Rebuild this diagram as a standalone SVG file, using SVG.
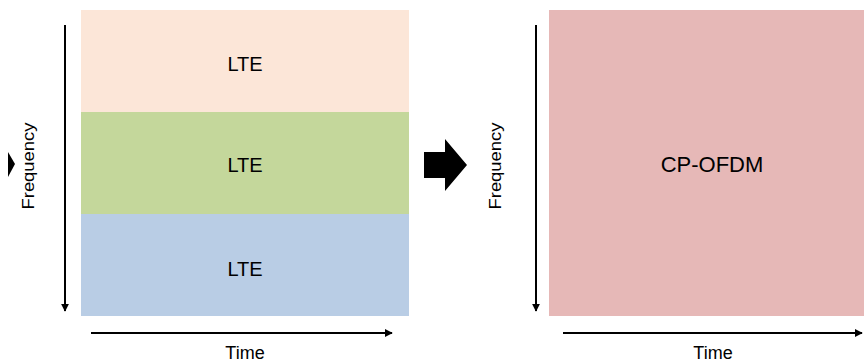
<svg xmlns="http://www.w3.org/2000/svg" width="864" height="363" viewBox="0 0 864 363">
<defs>
<style>
.lbl{font-family:"Liberation Sans",Arial,sans-serif;fill:#000;text-anchor:middle}
.ax{stroke:#000;stroke-width:2;fill:none}
</style>
<marker id="ah" viewBox="0 0 10 10" refX="9" refY="5" markerWidth="4" markerHeight="4" markerUnits="strokeWidth" orient="auto">
<path d="M0,0 L10,5 L0,10 Z" fill="#000"/>
</marker>
</defs>
<rect width="864" height="363" fill="#fff"/>
<g id="lte-top">
<rect x="81" y="10" width="328" height="102" fill="#FCE6D8"/>
<text class="lbl" x="245" y="71" font-size="20">LTE</text>
</g>
<g id="lte-mid">
<rect x="81" y="112" width="328" height="102" fill="#C4D79B"/>
<text class="lbl" x="245" y="172" font-size="20">LTE</text>
</g>
<g id="lte-bot">
<rect x="81" y="214" width="328" height="102" fill="#B9CDE5"/>
<text class="lbl" x="245" y="276" font-size="20">LTE</text>
</g>
<g id="cp-ofdm">
<rect x="549" y="10" width="315" height="306" fill="#E6B8B7"/>
<text class="lbl" x="712" y="172" font-size="22">CP-OFDM</text>
</g>
<g id="block-arrow">
<polygon points="424,152 445,152 445,139 467,165 445,191 445,178 424,178" fill="#000"/>
</g>
<g id="edge-arrow">
<polygon points="8,152 15,164 8,177" fill="#000"/>
</g>
<g id="connectors">
<line class="ax" x1="65" y1="25" x2="65" y2="311" marker-end="url(#ah)"/>
<line class="ax" x1="536" y1="25" x2="536" y2="311" marker-end="url(#ah)"/>
<line class="ax" x1="91" y1="333" x2="392" y2="333" marker-end="url(#ah)"/>
<line class="ax" x1="563" y1="333" x2="862" y2="333" marker-end="url(#ah)"/>
</g>
<g id="axis-labels">
<text class="lbl" font-size="17" transform="translate(34,166) rotate(-90)" textLength="87" lengthAdjust="spacingAndGlyphs">Frequency</text>
<text class="lbl" font-size="17" transform="translate(501,166) rotate(-90)" textLength="87" lengthAdjust="spacingAndGlyphs">Frequency</text>
<text class="lbl" x="245" y="359" font-size="18">Time</text>
<text class="lbl" x="713" y="359" font-size="18">Time</text>
</g>
</svg>
